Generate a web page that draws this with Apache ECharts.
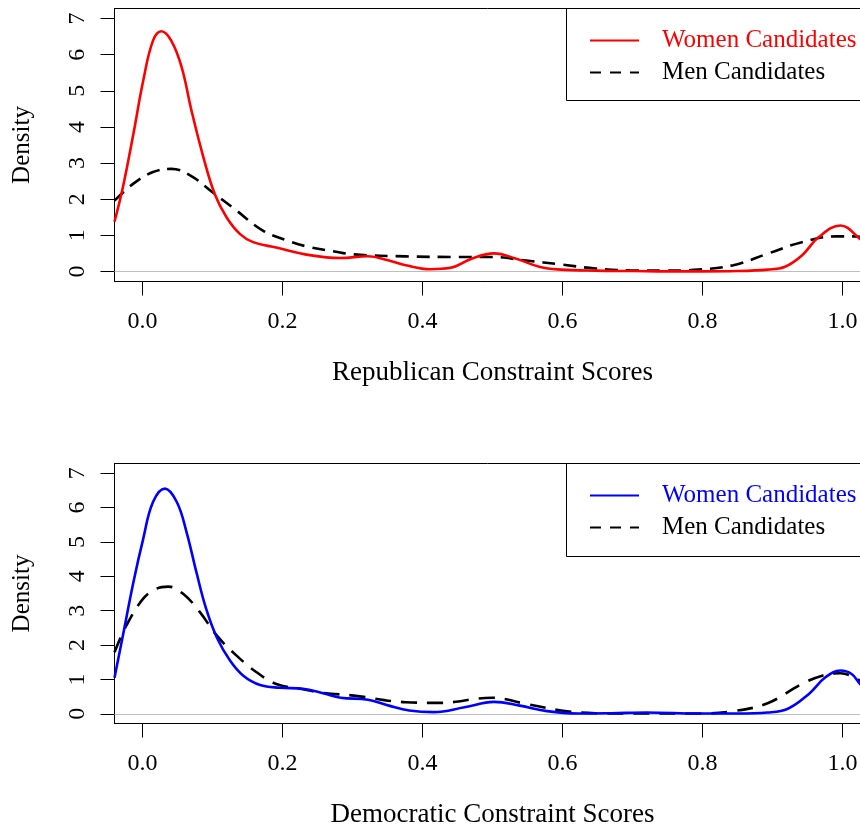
<!DOCTYPE html>
<html>
<head>
<meta charset="utf-8">
<script src="https://cdn.jsdelivr.net/npm/echarts@6/dist/echarts.min.js"></script>
<style>html,body{margin:0;padding:0;background:#fff;}#chart{width:860px;height:827px;}</style>
</head>
<body>
<div id="chart"></div>
<script>
// ---- data ----
const xTicks = [0, 0.2, 0.4, 0.6, 0.8, 1.0];
const yTicks = [0, 1, 2, 3, 4, 5, 6, 7];
const legendLabels = ['Women Candidates', 'Men Candidates'];
const xTitles = ['Republican Constraint Scores', 'Democratic Constraint Scores'];

const repWomen = [[-0.04,1.38],[-0.028,2.33],[-0.013,3.81],[0.001,5.28],[0.015,6.39],[0.027,6.65],[0.041,6.39],[0.056,5.65],[0.070,4.45],[0.087,3.16],[0.103,2.15],[0.12,1.50],[0.139,1.04],[0.158,0.81],[0.191,0.66],[0.239,0.45],[0.283,0.37],[0.322,0.42],[0.352,0.30],[0.376,0.17],[0.411,0.06],[0.44,0.10],[0.47,0.35],[0.502,0.50],[0.534,0.35],[0.568,0.12],[0.598,0.05],[0.647,0.02],[0.70,0.01],[0.75,0.0],[0.80,0.0],[0.85,0.01],[0.893,0.05],[0.917,0.12],[0.942,0.44],[0.966,0.95],[0.997,1.27],[1.025,0.90],[1.04,0.62]];
const repMen = [[-0.04,1.96],[-0.013,2.43],[0.015,2.75],[0.041,2.84],[0.068,2.66],[0.10,2.19],[0.134,1.69],[0.172,1.13],[0.206,0.86],[0.239,0.67],[0.272,0.56],[0.302,0.47],[0.376,0.415],[0.45,0.40],[0.499,0.40],[0.548,0.30],[0.598,0.19],[0.647,0.08],[0.696,0.03],[0.745,0.02],[0.794,0.05],[0.844,0.17],[0.893,0.49],[0.942,0.81],[0.991,0.97],[1.016,0.97],[1.04,0.92]];
const demWomen = [[-0.04,1.05],[-0.028,2.28],[-0.013,3.83],[0.001,5.09],[0.015,6.16],[0.032,6.55],[0.049,6.16],[0.063,5.28],[0.077,4.12],[0.091,3.05],[0.106,2.23],[0.125,1.55],[0.144,1.11],[0.168,0.84],[0.196,0.76],[0.229,0.73],[0.258,0.60],[0.283,0.47],[0.322,0.41],[0.352,0.24],[0.381,0.10],[0.416,0.05],[0.46,0.19],[0.502,0.35],[0.539,0.24],[0.578,0.08],[0.622,0.01],[0.67,0.02],[0.72,0.04],[0.794,0.01],[0.85,0.01],[0.893,0.04],[0.922,0.15],[0.952,0.58],[0.976,1.07],[0.997,1.26],[1.013,1.16],[1.025,0.87],[1.04,0.55]];
const demMen = [[-0.04,1.79],[-0.023,2.57],[0.001,3.35],[0.02,3.64],[0.037,3.70],[0.058,3.49],[0.082,2.96],[0.106,2.28],[0.134,1.70],[0.163,1.21],[0.191,0.87],[0.225,0.73],[0.258,0.61],[0.302,0.53],[0.376,0.34],[0.425,0.32],[0.499,0.47],[0.548,0.29],[0.598,0.10],[0.647,0.02],[0.72,0.01],[0.794,0.01],[0.844,0.08],[0.893,0.31],[0.942,0.87],[0.971,1.11],[0.997,1.18],[1.025,0.97],[1.04,0.80]];

// ---- chart ----
const FONT = 'Liberation Serif, Times New Roman, serif';
const chart = echarts.init(document.getElementById('chart'), null, {renderer: 'canvas'});

const grids = [
  {left: 114.5, top: 8.5, width: 756, height: 273},
  {left: 114.5, top: 463.5, width: 756, height: 260}
];

function xAxisOpt(i) {
  return {
    type: 'value', gridIndex: i, min: -0.04, max: 1.04, position: 'bottom',
    name: xTitles[i], nameLocation: 'middle', nameGap: 78,
    nameTextStyle: {fontFamily: FONT, fontSize: 27, color: '#000'},
    axisLine: {show: true, onZero: false, lineStyle: {color: '#000', width: 1}},
    axisTick: {show: true, length: 14, inside: false, customValues: xTicks, lineStyle: {color: '#000', width: 1}},
    axisLabel: {show: true, customValues: xTicks, margin: 28, fontFamily: FONT, fontSize: 24, color: '#000',
      formatter: v => Number(v).toFixed(1)},
    splitLine: {show: false}
  };
}
function yAxisOpt(i) {
  return {
    type: 'value', gridIndex: i, min: -0.28, max: 7.28, position: 'left',
    name: 'Density', nameLocation: 'middle', nameGap: 80, nameRotate: 90,
    nameTextStyle: {fontFamily: FONT, fontSize: 25, color: '#000'},
    axisLine: {show: true, onZero: false, lineStyle: {color: '#000', width: 1}},
    axisTick: {show: true, length: 14, inside: false, customValues: yTicks, lineStyle: {color: '#000', width: 1}},
    axisLabel: {show: true, customValues: yTicks, rotate: 90, margin: 25, fontFamily: FONT, fontSize: 24, color: '#000'},
    splitLine: {show: false}
  };
}

function lineSeries(name, i, data, color, dash) {
  const s = {
    name: name, type: 'line', xAxisIndex: i, yAxisIndex: i, data: data,
    smooth: 0.4, symbol: 'none', showSymbol: false, clip: true,
    lineStyle: {color: color, width: 2.6, type: dash || 'solid', cap: 'butt'},
    itemStyle: {color: color},
    z: dash ? 3 : 4
  };
  if (!dash) {
    s.markLine = {
      silent: true, symbol: ['none', 'none'], label: {show: false},
      lineStyle: {color: '#bebebe', width: 1.2, type: 'solid'},
      data: [{yAxis: 0}], z: 1
    };
  }
  return s;
}

const names = {
  rw: 'R ' + legendLabels[0], rm: 'R ' + legendLabels[1],
  dw: 'D ' + legendLabels[0], dm: 'D ' + legendLabels[1]
};

function legendOpt(top, wName, mName, wColor) {
  return {
    show: true, orient: 'vertical', left: 589, top: top, padding: 0,
    itemWidth: 49, itemHeight: 14, itemGap: 7,
    itemStyle: {opacity: 0},
    formatter: n => n.slice(2),
    textStyle: {fontFamily: FONT, fontSize: 25, lineHeight: 24, color: '#000', padding: [0, 0, 0, 18]},
    selectedMode: false,
    data: [
      {name: wName, textStyle: {color: wColor}},
      {name: mName, textStyle: {color: '#000'}, lineStyle: {type: [11, 9]}}
    ]
  };
}

chart.setOption({
  animation: false,
  backgroundColor: '#fff',
  textStyle: {fontFamily: FONT},
  grid: grids.map(g => Object.assign({show: true, borderColor: '#000', borderWidth: 1, backgroundColor: 'transparent', containLabel: false, outerBoundsMode: 'none'}, g)),
  xAxis: [xAxisOpt(0), xAxisOpt(1)],
  yAxis: [yAxisOpt(0), yAxisOpt(1)],
  legend: [
    legendOpt(28, names.rw, names.rm, '#ff0000'),
    legendOpt(483, names.dw, names.dm, '#0000ff')
  ],
  graphic: [
    {type: 'rect', shape: {x: 566.5, y: 8.5, width: 400, height: 92}, style: {fill: 'none', stroke: '#000', lineWidth: 1}, z: 10, silent: true},
    {type: 'rect', shape: {x: 566.5, y: 463.5, width: 400, height: 93}, style: {fill: 'none', stroke: '#000', lineWidth: 1}, z: 10, silent: true}
  ],
  series: [
    lineSeries(names.rm, 0, repMen, '#000000', [13, 8]),
    lineSeries(names.rw, 0, repWomen, '#ff0000', null),
    lineSeries(names.dm, 1, demMen, '#000000', [16, 10]),
    lineSeries(names.dw, 1, demWomen, '#0000ff', null)
  ]
});
</script>
</body>
</html>
